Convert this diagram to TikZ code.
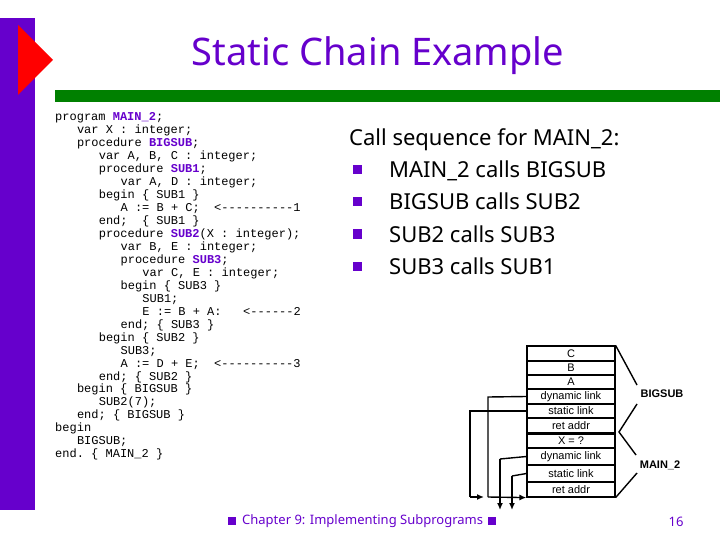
\documentclass[tikz,border=0pt]{standalone}
\usepackage{fontspec}
\setmainfont{Noto Sans}
\setmonofont{Liberation Mono}
\newfontfamily\arialf{Liberation Sans}
\begin{document}
\begin{tikzpicture}[x=1pt,y=-1pt,
  code/.style={anchor=base west,inner sep=0pt,font=\fontsize{12}{13}\ttfamily},
  cell/.style={draw,line width=1.2pt,minimum width=88pt,inner sep=0pt,font=\arialf\fontsize{11}{11}\selectfont},
  lnk/.style={line width=1.4pt},
  arr/.style={line width=1.4pt,-{Latex[length=7pt,width=6pt]}},
  bul/.style={fill=pur,minimum size=8pt,inner sep=0pt}]
\usetikzlibrary{arrows.meta}
\definecolor{pur}{HTML}{6600CC}
\definecolor{grn}{HTML}{008000}
\newcommand{\kw}[1]{\textbf{\color{pur}#1}}
\useasboundingbox (0,0) rectangle (720,540);
\fill[pur] (0,18) rectangle (35,510);
\fill[red] (18,25) -- (53,60) -- (18,95) -- cycle;
\fill[grn] (55,90) rectangle (720,102);
\node[font=\fontsize{38}{40}\selectfont,text=pur] (title) at (378,56) {Static Chain Example};
% code
\foreach \lev/\txt [count=\i from 0] in {
 0/{program \kw{MAIN\_2};},
 1/{var X : integer;},
 1/{procedure \kw{BIGSUB};},
 2/{var A, B, C : integer;},
 2/{procedure \kw{SUB1};},
 3/{var A, D : integer;},
 2/{begin \{ SUB1 \}},
 3/{A := B + C;~~<{-}{-}{-}{-}{-}{-}{-}{-}{-}{-}1},
 2/{end;~~\{ SUB1 \}},
 2/{procedure \kw{SUB2}(X : integer);},
 3/{var B, E : integer;},
 3/{procedure \kw{SUB3};},
 4/{var C, E : integer;},
 3/{begin \{ SUB3 \}},
 4/{SUB1;},
 4/{E := B + A:~~~<{-}{-}{-}{-}{-}{-}2},
 3/{end; \{ SUB3 \}},
 2/{begin \{ SUB2 \}},
 3/{SUB3;},
 3/{A := D + E;~~<{-}{-}{-}{-}{-}{-}{-}{-}{-}{-}3},
 2/{end; \{ SUB2 \}},
 1/{begin \{ BIGSUB \}},
 2/{SUB2(7);},
 1/{end; \{ BIGSUB \}},
 0/{begin},
 1/{BIGSUB;},
 0/{end. \{ MAIN\_2 \}}}
 \node[code] (c\i) at ({55+21.8*\lev},{121+12.95*\i}) {\txt};
% call sequence
\node[anchor=base west,inner sep=0pt,font=\fontsize{22}{24}\selectfont] (cs) at (349,146) {Call sequence for MAIN\_2:};
\foreach \t [count=\i from 0] in {MAIN\_2 calls BIGSUB,BIGSUB calls SUB2,SUB2 calls SUB3,SUB3 calls SUB1}{
 \node[bul,minimum size=9pt] (b\i) at (357,{170+32*\i}) {};
 \node[anchor=base west,inner sep=0pt,font=\fontsize{22}{24}\selectfont] (s\i) at (389,{178+32*\i}) {\t};
}
% stack
\foreach \t/\a/\b [count=\i] in {C/346/361,B/361/375,A/375/389,dynamic link/389/404,static link/404/418,ret addr/418/433,X = ?/433/448,dynamic link/448/465,static link/465/482,ret addr/482/497}
 \node[cell,minimum height={\b-\a}] (r\i) at (571,{(\a+\b)/2}) {\t};
\draw[line width=2.5pt] (r6.south west) -- (r6.south east);
\node[font=\arialf\bfseries\fontsize{11}{11}\selectfont] (big) at (662,394) {BIGSUB};
\node[font=\arialf\bfseries\fontsize{11}{11}\selectfont] (mn) at (660,465) {MAIN\_2};
\coordinate (t1) at (637,385); \coordinate (t2) at (637,404);
\coordinate (t3) at (636,455); \coordinate (t4) at (637,473);
\draw[lnk] (r1.north east) -- (t1);
\draw[lnk] (t2) -- (619,432) -- (t3);
\draw[lnk] (t4) -- (r10.south east);
% links
\coordinate (d1) at (488,397); \coordinate (d1b) at (488,497);
\coordinate (s1) at (470,411); \coordinate (s1b) at (470,497);
\draw[lnk] (r4.west) -- (d1) -- (d1b);
\draw[arr] (d1b) -- (r10.south west);
\draw[lnk] (r5.west) -- (s1) -- (s1b);
\draw[arr] (s1b) -- (484,497);
\coordinate (d2) at (500,459); \coordinate (d2b) at (500,510);
\coordinate (s2) at (512,476); \coordinate (s2b) at (512,510);
\draw[lnk] (r8.west) -- (d2);
\draw[arr] (d2) -- (d2b);
\draw[lnk] (r9.west) -- (s2);
\draw[arr] (s2) -- (s2b);
% footer
\node[bul] (f1) at (232,521) {};
\node[anchor=west,inner sep=0pt,font=\fontsize{13}{14}\selectfont,text=pur] (ft) at (242,521) {Chapter 9: Implementing Subprograms};
\node[bul] (f2) at (492,521) {};
\node[font=\fontsize{13}{14}\selectfont,text=pur] (pg) at (676,522) {16};
\end{tikzpicture}
\end{document}
